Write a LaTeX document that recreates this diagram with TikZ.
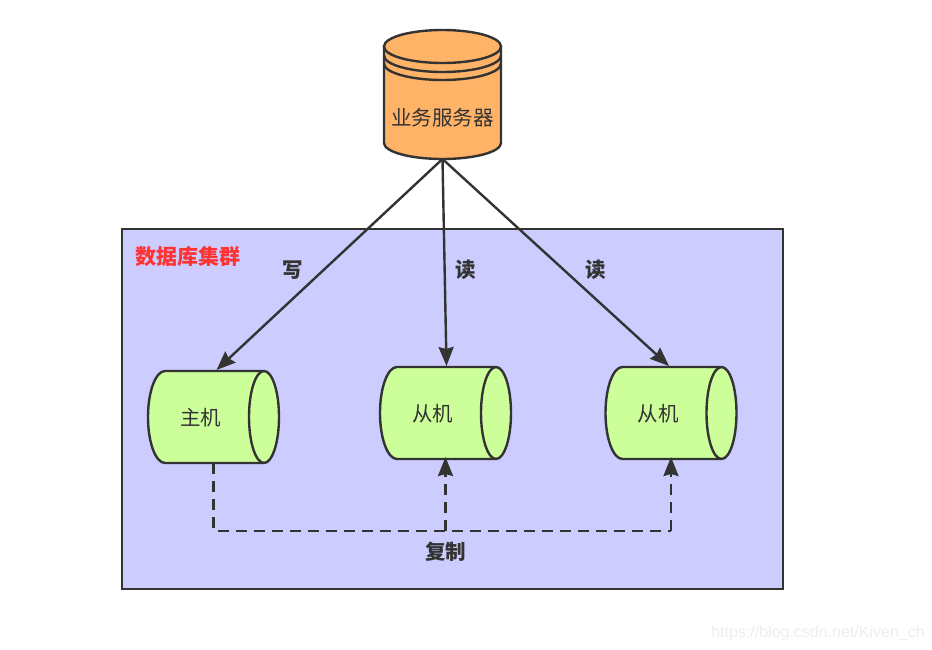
\documentclass[tikz,border=0pt]{standalone}
\usepackage{fontspec}
\newfontfamily\cjk{Noto Sans CJK SC}
\setsansfont{Liberation Sans}
\usetikzlibrary{positioning, arrows.meta}
\definecolor{cLine}{RGB}{51,51,51}
\definecolor{cBox}{RGB}{204,204,255}
\definecolor{cHost}{RGB}{204,255,153}
\definecolor{cServer}{RGB}{255,179,102}
\definecolor{cNote}{RGB}{255,51,51}
\tikzset{
    outline/.style={draw=cLine, line width=2.4pt},
    plainlabel/.style={text=cLine, font=\fontsize{20.5}{24}\selectfont\cjk},
    boldlabel/.style={text=cLine, font=\fontsize{20.5}{24}\selectfont\cjk\bfseries},
    readline/.style={-{Stealth[length=19pt, width=15pt, inset=2pt]}, outline},
    copyline/.style={outline, dash pattern=on 11pt off 7pt},
    hostcyl/.pic={
        \path[outline, fill=cHost] (-48.5,-46) -- (50.5,-46)
            arc[start angle=-90, end angle=90, x radius=15, y radius=46] -- (-48.5,46)
            arc[start angle=90, end angle=270, x radius=17, y radius=46] -- cycle;
        \draw[outline] (50.5,-46) arc[start angle=-90, end angle=-270, x radius=15, y radius=46];
        \node[minimum width=131pt, minimum height=92pt, inner sep=0pt, outer sep=0pt] (body) {};
        \node[plainlabel] (name) at (-13,0.5) {#1};
    }
}

\begin{document}
\begin{tikzpicture}[x=1pt, y=-1pt, node distance=225.5pt, on grid]
    \useasboundingbox (0,0) rectangle (932,650);
    \node[outline, fill=cBox, minimum width=661pt, minimum height=360pt] (cluster) at (452.5,409) {};
    \node[text=cNote, font=\fontsize{21}{24}\selectfont\cjk\bfseries] (clusterName) at (187.5,256.5) {数据库集群};

    % server drum
    \path[outline, fill=cServer] (384,46.5) -- (384,143)
        arc[start angle=180, end angle=0, x radius=58.5, y radius=16] -- (501,46.5) -- cycle;
    \draw[outline, fill=cServer] (442.5,46.5) ellipse[x radius=58.5, y radius=16.5];
    \draw[outline] (384,55.5) arc[start angle=180, end angle=0, x radius=58.5, y radius=16.5];
    \draw[outline] (384,63.5) arc[start angle=180, end angle=0, x radius=58.5, y radius=16.5];
    \node[minimum width=117pt, minimum height=129pt, inner sep=0pt, outer sep=0pt] (server) at (442.5,94.5) {};
    \node[plainlabel] (serverName) at (442.5,117.5) {业务服务器};

    \pic (master) at (213.5,417) {hostcyl={主机}};
    \coordinate (slaveAc) at (445.5,413);
    \pic (slaveA) at (slaveAc) {hostcyl={从机}};
    \coordinate[right=of slaveAc] (slaveBc);
    \pic (slaveB) at (slaveBc) {hostcyl={从机}};

    \foreach \target/\dx in {masterbody/3, slaveAbody/1, slaveBbody/-2}
        \draw[readline] (server.south) -- ([xshift=\dx pt, yshift=1pt]\target.north);

    \node[boldlabel] (labelW) at (292.5,270) {写};
    \node[boldlabel] (labelA) at (465.5,270) {读};
    \node[boldlabel] (labelB) at (595.5,270) {读};

    \coordinate (busL) at (masterbody.south |- 0,531);
    \coordinate (busA) at (slaveAbody.south |- 0,531);
    \coordinate (busB) at (slaveBbody.south |- 0,531);
    \draw[copyline] (masterbody.south) -- (busL) -- (busB);
    \draw[copyline, -{Stealth[length=19pt, width=15pt, inset=2pt]}] (busA) -- ([yshift=2pt]slaveAbody.south);
    \draw[copyline, -{Stealth[length=19pt, width=15pt, inset=2pt]}] (busB) -- ([yshift=2pt]slaveBbody.south);
    \node[boldlabel] (labelCopy) at (445.5,552) {复制};

    \node[text=black!7, font=\fontsize{16}{19}\selectfont\sffamily] (mark) at (818,633) {https://blog.csdn.net/Kiven\_ch};
\end{tikzpicture}
\end{document}
